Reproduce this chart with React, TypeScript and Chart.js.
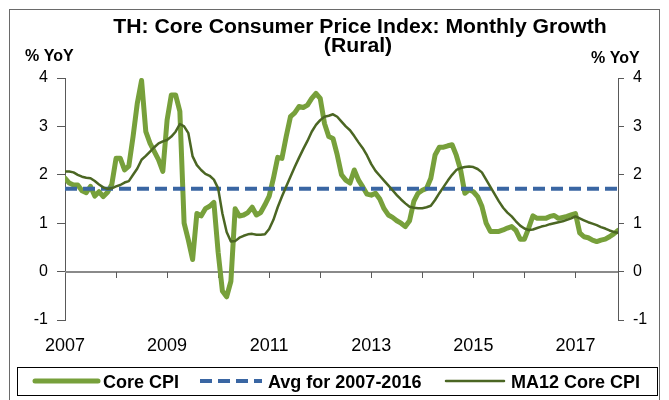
import React, { useEffect, useRef } from 'react';
import { Chart, registerables } from 'chart.js';

Chart.register(...registerables);

// ---------- data ----------
const START_YEAR = 2007;
const yearLabels = ['2007', '2009', '2011', '2013', '2015', '2017'];
const yTicks = [-1, 0, 1, 2, 3, 4];
const titleLines = ['TH: Core Consumer Price Index: Monthly Growth', '(Rural)'];
const yAxisTitle = '% YoY';
const seriesNames = ['Core CPI', 'Avg for 2007-2016', 'MA12 Core CPI'];

// monthly, Jan 2007 .. Nov 2017
const coreCPI = [
  1.93, 1.83, 1.79, 1.79, 1.67, 1.63, 1.76, 1.56, 1.65, 1.55, 1.64, 1.80,
  2.34, 2.34, 2.10, 2.18, 2.79, 3.48, 3.95, 2.89, 2.65, 2.48, 2.31, 2.07,
  3.13, 3.65, 3.65, 3.31, 1.00, 0.65, 0.25, 1.20, 1.15, 1.30, 1.35, 1.43,
  0.40, -0.40, -0.52, -0.20, 1.30, 1.15, 1.17, 1.22, 1.33, 1.17, 1.22, 1.38,
  1.56, 1.93, 2.36, 2.34, 2.79, 3.20, 3.28, 3.41, 3.39, 3.44, 3.58, 3.68,
  3.58, 3.06, 2.79, 2.75, 2.41, 2.00, 1.89, 1.83, 2.10, 1.89, 1.75, 1.60,
  1.58, 1.62, 1.50, 1.30, 1.17, 1.12, 1.05, 1.00, 0.93, 1.05, 1.45, 1.62,
  1.68, 1.72, 1.93, 2.41, 2.57, 2.57, 2.60, 2.62, 2.40, 2.10, 1.62, 1.69,
  1.65, 1.55, 1.35, 1.00, 0.83, 0.83, 0.83, 0.86, 0.90, 0.93, 0.85, 0.67,
  0.67, 0.90, 1.15, 1.10, 1.10, 1.10, 1.14, 1.16, 1.10, 1.12, 1.14, 1.17,
  1.20, 0.80, 0.72, 0.70, 0.65, 0.62, 0.65, 0.67, 0.72, 0.78, 0.85,
];

const ma12CoreCPI = [
  2.07, 2.07, 2.05, 2.00, 1.96, 1.94, 1.93, 1.87, 1.80, 1.74, 1.71, 1.72,
  1.76, 1.79, 1.84, 1.87, 2.00, 2.13, 2.31, 2.39, 2.48, 2.57, 2.65, 2.69,
  2.72, 2.79, 2.89, 3.05, 3.00, 2.86, 2.38, 2.20, 2.10, 2.02, 1.98, 1.90,
  1.72, 1.20, 0.82, 0.62, 0.63, 0.70, 0.74, 0.77, 0.78, 0.76, 0.76, 0.77,
  0.88, 1.07, 1.33, 1.55, 1.76, 1.96, 2.16, 2.35, 2.53, 2.70, 2.89, 3.03,
  3.13, 3.20, 3.22, 3.25, 3.20, 3.10, 3.00, 2.92, 2.80, 2.67, 2.55, 2.40,
  2.22, 2.08, 1.98, 1.88, 1.78, 1.68, 1.58, 1.49, 1.41, 1.34, 1.32, 1.31,
  1.31, 1.33, 1.36, 1.48, 1.62, 1.75, 1.88, 2.00, 2.10, 2.14, 2.16, 2.17,
  2.16, 2.12, 2.05, 1.90, 1.75, 1.60, 1.45, 1.32, 1.22, 1.14, 1.04, 0.95,
  0.89, 0.86, 0.87, 0.90, 0.93, 0.95, 0.98, 1.00, 1.02, 1.04, 1.07, 1.10,
  1.14, 1.10, 1.06, 1.02, 0.99, 0.96, 0.92, 0.89, 0.85, 0.82, 0.80,
];

const avgValue = 1.71;

// ---------- styles ----------
const FONT = '"Liberation Sans", Arial, Helvetica, sans-serif';
const GREEN = '#77A03B';
const DARK_GREEN = '#4B6623';
const BLUE = '#3A66A3';
const DASH = [12, 6];

function drawStretched(ctx: CanvasRenderingContext2D, text: string, cx: number, y: number, sx: number) {
  ctx.save();
  ctx.translate(cx, y);
  ctx.scale(sx, 1);
  ctx.fillText(text, 0, 0);
  ctx.restore();
}

const decorPlugin = {
  id: 'decor',
  beforeDatasetsDraw(chart: any) {
    const { ctx, chartArea, scales } = chart;
    const y0 = Math.round(scales.y.getPixelForValue(0));
    ctx.save();
    ctx.strokeStyle = '#8a8a8a';
    ctx.lineWidth = 2;
    ctx.beginPath();
    ctx.moveTo(chartArea.left, y0);
    ctx.lineTo(chartArea.right, y0);
    ctx.stroke();
    ctx.strokeStyle = '#5a5a5a';
    ctx.lineWidth = 1;
    scales.x.ticks.forEach((t: any) => {
      if (t.value === 0) return;
      const x = Math.round(scales.x.getPixelForValue(t.value)) + 0.5;
      ctx.beginPath();
      ctx.moveTo(x, y0);
      ctx.lineTo(x, y0 + 6);
      ctx.stroke();
    });
    ctx.restore();
  },
  afterDraw(chart: any) {
    const { ctx } = chart;
    const ds = chart.data.datasets;
    ctx.save();
    // outer frame
    ctx.strokeStyle = '#6a6a6a';
    ctx.lineWidth = 1;
    ctx.strokeRect(9.5, 9.5, 650, 400);

    // title
    ctx.fillStyle = '#000';
    ctx.textAlign = 'center';
    ctx.textBaseline = 'alphabetic';
    ctx.font = `bold 20px ${FONT}`;
    drawStretched(ctx, titleLines[0], 360, 33, 1.06);
    drawStretched(ctx, titleLines[1], 358, 52, 1.06);

    // axis titles
    ctx.textAlign = 'left';
    ctx.font = `bold 16px ${FONT}`;
    ctx.fillText(yAxisTitle, 25, 61);
    ctx.fillText(yAxisTitle, 591, 63);

    // legend
    ctx.strokeStyle = '#000';
    ctx.lineWidth = 1;
    ctx.strokeRect(17.5, 367.5, 640, 28);
    const ly = 381;
    const items = [
      { x1: 35, x2: 98, tx: 103 },
      { x1: 200, x2: 262, tx: 268 },
      { x1: 446, x2: 504, tx: 511 },
    ];
    ctx.font = `bold 18px ${FONT}`;
    items.forEach((it, i) => {
      const d = ds[i];
      ctx.save();
      ctx.strokeStyle = d.borderColor;
      ctx.lineWidth = d.borderWidth;
      ctx.lineCap = d.borderDash && d.borderDash.length ? 'butt' : 'round';
      ctx.setLineDash(d.borderDash || []);
      ctx.beginPath();
      ctx.moveTo(it.x1, ly);
      ctx.lineTo(it.x2, ly);
      ctx.stroke();
      ctx.restore();
      ctx.fillStyle = '#000';
      ctx.fillText(seriesNames[i], it.tx, 388);
    });
    ctx.restore();
  },
};

export default function App() {
  const canvasRef = useRef<HTMLCanvasElement | null>(null);

  useEffect(() => {
    const canvas = canvasRef.current;
    if (!canvas) return;
    const n = coreCPI.length;
    const toPts = (arr: number[]) => arr.map((v, i) => ({ x: i, y: v }));

    const chart = new Chart(canvas, {
      type: 'line',
      data: {
        datasets: [
          {
            label: seriesNames[0],
            data: toPts(coreCPI),
            borderColor: GREEN,
            borderWidth: 5,
            borderJoinStyle: 'round',
            borderCapStyle: 'round',
            pointRadius: 0,
            tension: 0,
            order: 3,
          },
          {
            label: seriesNames[1],
            data: [
              { x: 0, y: avgValue },
              { x: n - 1, y: avgValue },
            ],
            borderColor: BLUE,
            borderWidth: 4,
            borderDash: DASH,
            borderCapStyle: 'butt',
            pointRadius: 0,
            order: 2,
          },
          {
            label: seriesNames[2],
            data: toPts(ma12CoreCPI),
            borderColor: DARK_GREEN,
            borderWidth: 2.5,
            borderJoinStyle: 'round',
            pointRadius: 0,
            tension: 0,
            order: 1,
          },
        ] as any,
      },
      options: {
        responsive: false,
        animation: false,
        devicePixelRatio: 1,
        layout: { padding: { top: 78, left: 0, right: 0, bottom: 0 } },
        plugins: {
          legend: { display: false },
          title: { display: false },
          tooltip: { enabled: false },
        },
        scales: {
          x: {
            type: 'linear',
            min: 0,
            max: n - 1,
            afterFit: (s: any) => {
              s.height = 80;
            },
            grid: { display: false, drawTicks: false },
            border: { display: false },
            ticks: {
              stepSize: 12,
              includeBounds: false,
              autoSkip: false,
              maxRotation: 0,
              padding: 15,
              color: '#000',
              font: { family: FONT, size: 18 },
              callback: (v: any) =>
                Number(v) % 24 === 0 ? yearLabels[Number(v) / 24] ?? '' : '',
            },
          },
          y: {
            type: 'linear',
            position: 'left',
            min: yTicks[0],
            max: yTicks[yTicks.length - 1],
            afterFit: (s: any) => {
              s.width = 65;
            },
            grid: {
              drawOnChartArea: false,
              drawTicks: true,
              tickLength: 8,
              color: '#595959',
            },
            border: { display: true, color: '#595959', width: 1 },
            ticks: {
              stepSize: 1,
              padding: 9,
              color: '#000',
              font: { family: FONT, size: 16 },
            },
          },
          y2: {
            type: 'linear',
            position: 'right',
            min: yTicks[0],
            max: yTicks[yTicks.length - 1],
            afterFit: (s: any) => {
              s.width = 51;
            },
            grid: {
              drawOnChartArea: false,
              drawTicks: true,
              tickLength: 6,
              color: '#595959',
            },
            border: { display: true, color: '#595959', width: 1 },
            ticks: {
              stepSize: 1,
              padding: 9,
              color: '#000',
              font: { family: FONT, size: 16 },
            },
          },
        },
      } as any,
      plugins: [decorPlugin],
    });
    return () => chart.destroy();
  }, []);

  return (
    <div style={{ position: 'absolute', left: 0, top: 0, width: 669, height: 400, background: '#fff' }}>
      <canvas ref={canvasRef} width={669} height={400} style={{ display: 'block' }} />
    </div>
  );
}
